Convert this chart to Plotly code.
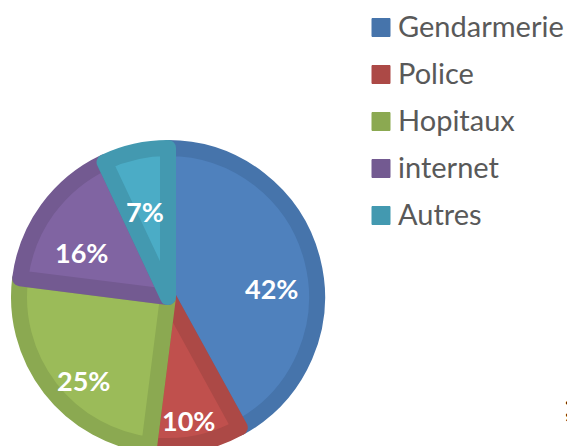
import math
import plotly.graph_objects as go

labels = ["Gendarmerie", "Police", "Hopitaux", "internet", "Autres"]
values = [42, 10, 25, 16, 7]
fill_colors = ["#4F81BD", "#C0504D", "#9BBB59", "#8064A2", "#4BACC6"]
edge_colors = ["#4674AB", "#AC4946", "#8BA951", "#735A91", "#4399B0"]

W, H = 567, 446
CX, CY, R = 168, 297, 149   # pie centre / path radius in pixels (layout)
fig = go.Figure()
fig.add_trace(go.Pie(
    labels=labels,
    values=values,
    sort=False,
    direction="clockwise",
    rotation=0,
    marker=dict(colors=fill_colors, line=dict(color=edge_colors, width=16)),
    textinfo="none",
    domain=dict(x=[(CX - R) / W, (CX + R) / W], y=[0, 2 * R / H]),
    showlegend=False,
    hoverinfo="label+percent",
))

# percentage labels placed along each slice bisector
total = sum(values)
cum = 0
lab_r = 0.68 * (R + 8)
for v in values:
    mid = (cum + v / 2) / total * 2 * math.pi
    cum += v
    px = CX + lab_r * math.sin(mid)
    py = CY - lab_r * math.cos(mid)
    fig.add_annotation(xref="paper", yref="paper", x=px / W, y=1 - py / H,
                       text=f"{round(v / total * 100)}%", showarrow=False,
                       xanchor="center", yanchor="top",
                       font=dict(family="Lato", size=27, color="white", weight="bold"))

# manual legend
row0, step = 27.5, 47
for i, (lab, col) in enumerate(zip(labels, edge_colors)):
    yc = row0 + i * step
    fig.add_shape(type="rect", xref="paper", yref="paper",
                  x0=372 / W, x1=390 / W, y0=1 - (yc - 9) / H, y1=1 - (yc + 9) / H,
                  fillcolor=col, line=dict(color=col, width=1))
    fig.add_annotation(xref="paper", yref="paper", x=396 / W, y=1 - (yc - 2) / H,
                       text=lab, showarrow=False, xanchor="left", yanchor="middle",
                       font=dict(family="Lato", size=29, color="#595959"))

fig.add_annotation(xref="paper", yref="paper", x=562 / W, y=1 - 405 / H,
                   text=";", showarrow=False, xanchor="left", yanchor="middle",
                   font=dict(family="Lato", size=30, color="black"))

fig.update_layout(
    width=W, height=H,
    margin=dict(l=0, r=0, t=0, b=0),
    paper_bgcolor="white",
    plot_bgcolor="white",
)

fig.write_html("out.html", config={"displayModeBar": False},
               post_script="document.body.style.margin='0';document.body.style.overflow='hidden';")
